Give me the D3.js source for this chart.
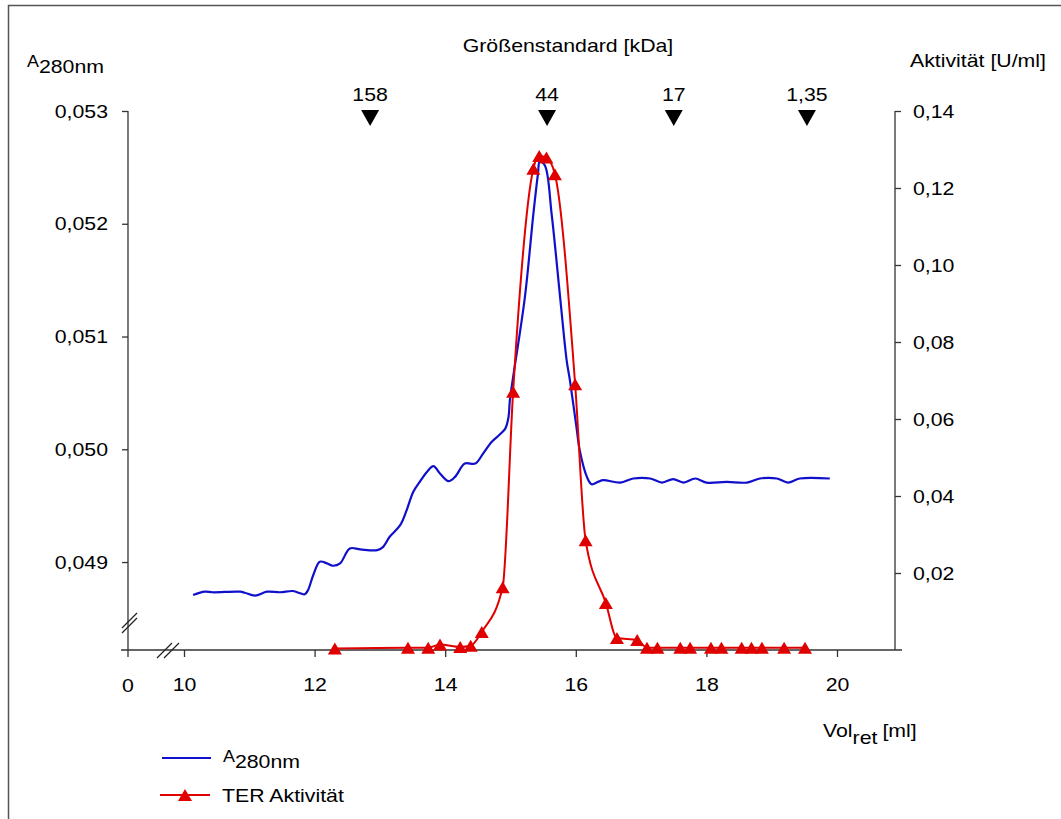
<!DOCTYPE html>
<html>
<head>
<meta charset="utf-8">
<script src="https://cdn.jsdelivr.net/npm/d3@7"></script>
<style>
  body { margin: 0; background: #fff; }
  svg { display: block; font-family: "Liberation Sans", Arial, sans-serif; }
</style>
</head>
<body>
<script>
// retention volume [ml] and A280 of the blue trace
const volA = [10.14, 10.32, 10.44, 10.86, 10.93, 11.09, 11.27, 11.47, 11.67, 11.78, 11.85, 11.90, 11.98, 12.08, 12.19, 12.28, 12.39,
  12.54, 12.70, 12.96, 13.05, 13.15, 13.31, 13.41, 13.51, 13.61, 13.72, 13.82, 13.92, 14.05, 14.15, 14.30, 14.46, 14.58, 14.71,
  14.84, 14.92, 14.97, 14.99, 15.04, 15.22, 15.35, 15.42, 15.45, 15.53, 15.63, 15.76, 15.86, 15.91, 16.01, 16.06, 16.17, 16.24,
  16.34, 16.42, 16.68, 16.88, 17.14, 17.32, 17.49, 17.65, 17.83, 18.00, 18.31, 18.62, 18.82, 19.08, 19.25, 19.43, 19.89];
const a280 = [0.048708, 0.048737, 0.048732, 0.048737, 0.048728, 0.048702, 0.048737, 0.048732, 0.048743, 0.048723, 0.048714, 0.048752,
  0.048885, 0.049003, 0.048988, 0.048967, 0.048988, 0.049121, 0.049112, 0.049106, 0.049135, 0.049224, 0.049327, 0.049460, 0.049622,
  0.049711, 0.049799, 0.049850, 0.049785, 0.049717, 0.049755, 0.049873, 0.049873, 0.049962, 0.050065, 0.050133, 0.050183, 0.050286,
  0.050434, 0.050640, 0.051348, 0.052086, 0.052440, 0.052558, 0.052513, 0.052086, 0.051348, 0.050788, 0.050611, 0.050197, 0.049991,
  0.049755, 0.049690, 0.049711, 0.049726, 0.049705, 0.049741, 0.049741, 0.049705, 0.049735, 0.049705, 0.049741, 0.049705, 0.049711,
  0.049705, 0.049741, 0.049741, 0.049705, 0.049741, 0.049741];

// TER activity fractions
const volTer = [12.31, 13.43, 13.74, 13.92, 14.23, 14.39, 14.56, 14.88, 15.04, 15.35, 15.44, 15.55, 15.68, 15.99, 16.15, 16.46, 16.63,
  16.94, 17.09, 17.25, 17.60, 17.75, 18.07, 18.23, 18.54, 18.69, 18.85, 19.19, 19.51];
const terAkt = [0.0004, 0.0006, 0.0006, 0.0014, 0.0008, 0.0011, 0.0047, 0.0163, 0.0671, 0.1250, 0.1283, 0.1279, 0.1236, 0.0690, 0.0285,
  0.0122, 0.0031, 0.0026, 0.0006, 0.0006, 0.0006, 0.0006, 0.0006, 0.0006, 0.0006, 0.0006, 0.0006, 0.0006, 0.0006];

// size standards
const stdVol = [12.85, 15.56, 17.50, 19.54];
const stdLabels = ["158", "44", "17", "1,35"];

const xTicks = [10, 12, 14, 16, 18, 20];
const leftTicks = [0.049, 0.050, 0.051, 0.052, 0.053];
const rightTicks = [0.02, 0.04, 0.06, 0.08, 0.10, 0.12, 0.14];

const W = 1061, H = 819;
const STRETCH = 1.12;
const FS = 19;
const de = d3.formatLocale({ decimal: ",", thousands: ".", grouping: [3], currency: ["", " €"] });

const svg = d3.select("body").append("svg").attr("width", W).attr("height", H);

// frame
svg.append("rect").attr("x", 8.5).attr("y", 5.5).attr("width", 1200).attr("height", 1000)
  .attr("fill", "none").attr("stroke", "#555").attr("stroke-width", 1.5);

let x = d3.scaleLinear().domain([10, 20]).range([184, 837]);
let yL = d3.scaleLinear().domain([0.04822, 0.053]).range([650, 111]);
let yR = d3.scaleLinear().domain([0, 0.14]).range([650, 111]);

const axisCol = "#333";

// left axis
let gL = svg.append("g").attr("transform", "translate(128,0)")
  .call(d3.axisLeft(yL).tickValues(leftTicks).tickSize(6).tickPadding(14).tickFormat(de.format(".3f")));
gL.select(".domain").remove();
svg.append("line").attr("x1", 128).attr("x2", 128).attr("y1", yL(0.053)).attr("y2", 657)
  .attr("stroke", axisCol).attr("stroke-width", 1.3);

// right axis
let gR = svg.append("g").attr("transform", "translate(895,0)")
  .call(d3.axisRight(yR).tickValues(rightTicks).tickSize(6).tickPadding(12).tickFormat(de.format(".2f")));
gR.select(".domain").remove();
svg.append("line").attr("x1", 895).attr("x2", 895).attr("y1", yR(0.14)).attr("y2", 650)
  .attr("stroke", axisCol).attr("stroke-width", 1.3);

// bottom axis
let gB = svg.append("g").attr("transform", "translate(0,650)")
  .call(d3.axisBottom(x).tickValues(xTicks).tickSize(7).tickPadding(21).tickFormat(d3.format("d")));
gB.select(".domain").remove();
svg.append("line").attr("x1", 121).attr("x2", 902).attr("y1", 650).attr("y2", 650)
  .attr("stroke", axisCol).attr("stroke-width", 1.3);
svg.append("text").attr("x", 128).attr("y", 692).attr("text-anchor", "middle").text("0");

[gL, gR, gB].forEach(g => {
  g.selectAll(".tick line").attr("stroke", axisCol).attr("stroke-width", 1.3);
  g.selectAll(".tick text").attr("fill", "#000").attr("font-family", null);
});

// axis break marks
[0, 7].forEach(o => {
  svg.append("line").attr("x1", 157 + o).attr("y1", 658).attr("x2", 172 + o).attr("y2", 643)
    .attr("stroke", "#222").attr("stroke-width", 1.3);
});
[0, 5].forEach(o => {
  svg.append("line").attr("x1", 122).attr("y1", 633 - o).attr("x2", 137).attr("y2", 618 - o)
    .attr("stroke", "#222").attr("stroke-width", 1.3);
});

// lines
let blueData = volA.map((v, i) => ({ v: v, a: a280[i] }));
let redData = volTer.map((v, i) => ({ v: v, u: terAkt[i] }));

svg.append("path").datum(blueData)
  .attr("d", d3.line().x(d => x(d.v)).y(d => yL(d.a)).curve(d3.curveCatmullRom.alpha(0.5)))
  .attr("fill", "none").attr("stroke", "#1010cc").attr("stroke-width", 2.2);

svg.append("path").datum(redData)
  .attr("d", d3.line().x(d => x(d.v)).y(d => yR(d.u)).curve(d3.curveMonotoneX))
  .attr("fill", "none").attr("stroke", "#e00000").attr("stroke-width", 2);

const triUp = { draw(ctx) { ctx.moveTo(0, -6); ctx.lineTo(7, 6); ctx.lineTo(-7, 6); ctx.closePath(); } };
const triDown = { draw(ctx) { ctx.moveTo(-9, -8); ctx.lineTo(9, -8); ctx.lineTo(0, 8); ctx.closePath(); } };

svg.selectAll(".ter").data(redData).enter().append("path")
  .attr("d", d3.symbol().type(triUp))
  .attr("transform", d => `translate(${x(d.v)},${yR(d.u)})`)
  .attr("fill", "#e00000");

// size standards on top
svg.selectAll(".std").data(stdVol).enter().append("path")
  .attr("d", d3.symbol().type(triDown))
  .attr("transform", d => `translate(${x(d)},118)`)
  .attr("fill", "#000");
svg.selectAll(".stdl").data(stdVol).enter().append("text")
  .attr("x", d => x(d)).attr("y", 101).attr("text-anchor", "middle")
  .text((d, i) => stdLabels[i]);

svg.append("text").attr("x", 568).attr("y", 52).attr("text-anchor", "middle")
  .text("Größenstandard [kDa]");
svg.append("text").attr("x", 910).attr("y", 67).text("Aktivität [U/ml]");

svg.selectAll("text").attr("font-size", FS).attr("fill", "#000");

function stretch(t) {
  let w = t.node().getComputedTextLength();
  t.attr("textLength", w * STRETCH).attr("lengthAdjust", "spacingAndGlyphs");
  return w * STRETCH;
}
svg.selectAll("text").each(function () { stretch(d3.select(this)); });

// text built from pieces with raised or lowered parts
function pieces(x0, parts) {
  let cx = x0;
  parts.forEach(p => {
    cx += p.gap || 0;
    let t = svg.append("text").attr("x", cx).attr("y", p.y).attr("font-size", p.size).attr("fill", "#000").text(p.s);
    cx += stretch(t);
  });
}
pieces(27, [{ s: "A", y: 67, size: 16 }, { s: "280nm", y: 73, size: FS }]);
pieces(823, [{ s: "Vol", y: 737, size: FS }, { s: "ret", y: 744, size: FS }, { s: "[ml]", y: 737, size: FS, gap: 5 }]);

// legend
svg.append("line").attr("x1", 162).attr("x2", 211).attr("y1", 758).attr("y2", 758)
  .attr("stroke", "#1010cc").attr("stroke-width", 2);
pieces(223, [{ s: "A", y: 762, size: 16 }, { s: "280nm", y: 768, size: FS }]);
svg.append("line").attr("x1", 160).attr("x2", 210).attr("y1", 795).attr("y2", 795)
  .attr("stroke", "#e00000").attr("stroke-width", 2);
svg.append("path").attr("d", d3.symbol().type(triUp)).attr("transform", "translate(185,795)").attr("fill", "#e00000");
pieces(222, [{ s: "TER Aktivität", y: 802, size: FS }]);
</script>
</body>
</html>
